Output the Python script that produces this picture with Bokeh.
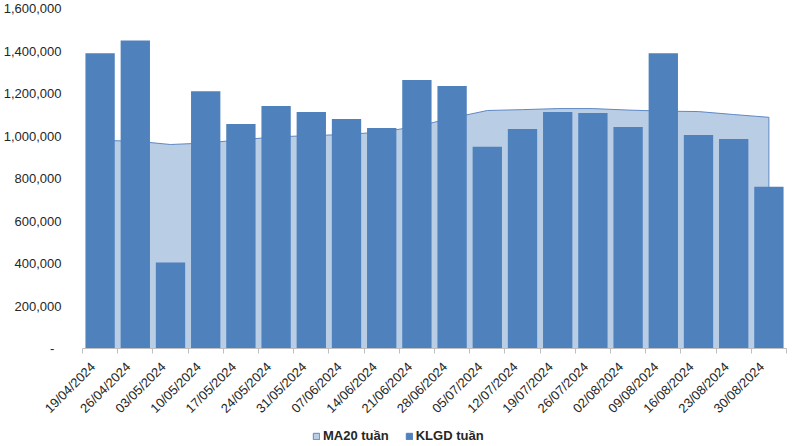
import math
from bokeh.plotting import figure
from bokeh.layouts import column
from bokeh.models import (FixedTicker, Range1d, Legend, LegendItem,
                          NumeralTickFormatter, ColumnDataSource)
from bokeh.embed import file_html
from bokeh.resources import INLINE

weeks = ["19/04/2024", "26/04/2024", "03/05/2024", "10/05/2024", "17/05/2024",
         "24/05/2024", "31/05/2024", "07/06/2024", "14/06/2024", "21/06/2024",
         "28/06/2024", "05/07/2024", "12/07/2024", "19/07/2024", "26/07/2024",
         "02/08/2024", "09/08/2024", "16/08/2024", "23/08/2024", "30/08/2024"]
klgd = [1389000, 1450000, 405000, 1211000, 1056000,
        1141000, 1113000, 1080000, 1038000, 1263000,
        1235000, 949000, 1033000, 1113000, 1108000,
        1042000, 1389000, 1005000, 986000, 761000]
ma20 = [979000, 976000, 960000, 967000, 982000,
        996000, 1002000, 1007000, 1019000, 1045000,
        1085000, 1120000, 1124000, 1129000, 1129000,
        1122000, 1117000, 1115000, 1101000, 1088000]
y_ticks = [0, 200000, 400000, 600000, 800000, 1000000, 1200000, 1400000, 1600000]
series_names = ["MA20 tuần", "KLGD tuần"]

n = len(weeks)
xs = list(range(1, n + 1))
src = ColumnDataSource(dict(x=xs, klgd=klgd, ma20=ma20, zero=[0] * n))

FONT = "Liberation Sans"
BAR = "#4F81BD"
AREA = "#B9CDE5"
AREA_LINE = "#5F88C4"
TXT = "#262626"

p = figure(width=799, height=424, output_backend="svg", toolbar_location=None,
           x_range=Range1d(0.5, n + 0.5), y_range=Range1d(0, 1600000),
           min_border_left=77, min_border_right=13, min_border_top=8,
           min_border_bottom=74, background_fill_color="white",
           border_fill_color="white")
p.outline_line_color = None
p.xgrid.visible = False
p.ygrid.visible = False

# MA20 area
p.varea(x="x", y1="zero", y2="ma20", source=src, fill_color=AREA)
p.line(x="x", y="ma20", source=src, line_color=AREA_LINE, line_width=1)
p.segment(x0=[xs[-1]], y0=[0], x1=[xs[-1]], y1=[ma20[-1]],
          line_color=AREA_LINE, line_width=1)

p.vbar(x="x", top="klgd", width=0.833, source=src, fill_color=BAR,
       line_color=None)

# x axis: labels anchored slightly left of the bar centres, ticks at boundaries
label_pos = [xi - 0.2 for xi in xs]
xa = p.xaxis[0]
xa.ticker = FixedTicker(ticks=label_pos, minor_ticks=[k + 0.5 for k in range(n + 1)])
xa.major_label_overrides = {lp: w for lp, w in zip(label_pos, weeks)}
xa.major_label_orientation = math.pi / 4
xa.major_tick_out = 0
xa.major_tick_in = 0
xa.minor_tick_out = 5
xa.minor_tick_in = 0
xa.minor_tick_line_color = "#BFBFBF"
xa.axis_line_color = "#BFBFBF"
xa.major_label_standoff = 11
xa.major_label_text_font = FONT
xa.major_label_text_font_size = "13px"
xa.major_label_text_color = TXT

# y axis
ya = p.yaxis[0]
ya.ticker = FixedTicker(ticks=y_ticks)
ya.formatter = NumeralTickFormatter(format="0,0")
ya.major_label_overrides = {0: "-\u00a0\u00a0"}
ya.axis_line_color = None
ya.major_tick_line_color = None
ya.minor_tick_line_color = None
ya.major_label_standoff = 15
ya.major_label_text_font = FONT
ya.major_label_text_font_size = "13px"
ya.major_label_text_color = TXT

# legend strip
lg = figure(width=799, height=22, output_backend="svg", toolbar_location=None,
            x_axis_type=None, y_axis_type=None,
            x_range=Range1d(0, 1), y_range=Range1d(0, 1),
            min_border=0, min_border_left=0, min_border_right=0,
            min_border_top=0, min_border_bottom=0,
            background_fill_color="white", border_fill_color="white")
lg.outline_line_color = None
lg.grid.visible = False
k_area = lg.quad(left=[-3], right=[-2], top=[-2], bottom=[-3], fill_color=AREA,
                 line_color=AREA_LINE, line_width=1)
k_bar = lg.quad(left=[-3], right=[-2], top=[-2], bottom=[-3], fill_color=BAR,
                line_color=BAR, line_width=1)
legend = Legend(items=[LegendItem(label=series_names[0], renderers=[k_area]),
                       LegendItem(label=series_names[1], renderers=[k_bar])],
                orientation="horizontal", location=(230, 3),
                glyph_width=8, glyph_height=8, label_standoff=3, spacing=16,
                padding=0, margin=0, border_line_color=None,
                background_fill_alpha=0, label_height=14,
                label_text_font=FONT, label_text_font_style="bold",
                label_text_font_size="13px", label_text_color=TXT)
lg.add_layout(legend)

open("out.html", "w").write(file_html(column(p, lg, spacing=0), INLINE))
